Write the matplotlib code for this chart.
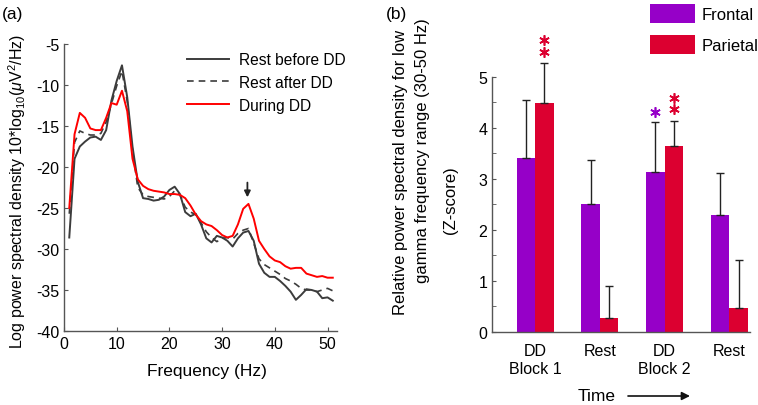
import matplotlib.pyplot as plt
import numpy as np

plt.rcParams['font.family'] = ['Liberation Sans', 'DejaVu Sans']
plt.rcParams['mathtext.fontset'] = 'custom'
plt.rcParams['mathtext.rm'] = 'Liberation Sans'
plt.rcParams['mathtext.it'] = 'Liberation Sans:italic'

# ---- panel (a): power spectra ----
freq = list(range(1, 52))
rest_before = [-28.6, -19.0, -17.5, -16.9, -16.4, -16.3, -16.7, -15.5, -11.9, -9.5,
               -7.6, -11.5, -17.5, -21.8, -23.8, -23.9, -24.1, -24.0, -23.6, -22.8,
               -22.4, -23.3, -25.5, -26.0, -25.7, -27.0, -28.7, -29.2, -28.4, -28.6,
               -29.0, -29.7, -28.7, -28.0, -27.8, -29.0, -31.8, -32.9, -33.4, -33.4,
               -33.9, -34.5, -35.2, -36.2, -35.6, -34.9, -35.0, -35.2, -36.0, -35.9,
               -36.3]
rest_after = [-25.7, -17.0, -15.6, -15.9, -16.1, -16.1, -15.9, -14.5, -12.3, -10.1,
              -8.3, -12.0, -18.0, -22.5, -23.4, -23.6, -23.7, -23.8, -23.9, -23.6,
              -22.9, -23.4, -24.9, -25.5, -25.8, -26.8, -27.9, -28.6, -29.1, -28.7,
              -28.6, -28.8, -28.1, -27.7, -27.5, -29.3, -31.2, -31.9, -32.3, -32.7,
              -33.1, -33.6, -33.9, -34.3, -34.8, -35.0, -35.0, -35.2, -35.0, -34.8,
              -35.1]
during_dd = [-25.0, -16.0, -13.4, -14.0, -15.3, -15.5, -15.5, -14.0, -12.2, -12.4,
             -10.7, -13.2, -19.0, -21.5, -22.3, -22.7, -22.9, -23.0, -23.1, -23.3,
             -23.3, -23.4, -23.8, -24.7, -25.8, -26.6, -27.0, -27.2, -27.7, -28.3,
             -28.6, -28.4, -27.0, -25.1, -24.5, -26.3, -29.0, -30.0, -30.9, -31.4,
             -31.6, -32.1, -32.4, -32.3, -32.3, -33.0, -33.2, -33.4, -33.3, -33.5,
             -33.5]
peak_freq = 34.8

# ---- panel (b): z-scores ----
groups = ['DD\nBlock 1', 'Rest', 'DD\nBlock 2', 'Rest']
frontal = [3.40, 2.50, 3.13, 2.30]
frontal_err = [1.15, 0.86, 0.98, 0.82]
parietal = [4.48, 0.27, 3.65, 0.47]
parietal_err = [0.79, 0.64, 0.49, 0.94]
frontal_stars = [0, 0, 1, 0]
parietal_stars = [2, 0, 2, 0]

purple = '#9600C8'
red = '#DC0030'
dark = '#3c3c3c'

W, H = 758, 406
fig = plt.figure(figsize=(W / 100, H / 100), dpi=100)

def fx(px):
    return px / W

def fy(py):
    return 1 - py / H

# panel a
ax1 = fig.add_axes([fx(64), fy(332), fx(337) - fx(64), fy(45) - fy(332)])
ax1.plot(freq, rest_before, color=dark, lw=1.4, label='Rest before DD')
ax1.plot(freq, rest_after, color=dark, lw=1.2, linestyle=(0, (4, 3)), label='Rest after DD')
ax1.plot(freq, during_dd, color='#ff0000', lw=1.4, label='During DD')
ax1.set_xlim(0, 51.8)
ax1.set_ylim(-40, -5)
ax1.set_xticks([0, 10, 20, 30, 40, 50])
ax1.set_yticks([-5, -10, -15, -20, -25, -30, -35, -40])
ax1.set_yticklabels(['-5', '-10', '-15', '-20', '-25', '-30', '-35', '-40'])
ax1.annotate('', xy=(peak_freq, -23.7), xytext=(peak_freq, -21.9),
             arrowprops=dict(arrowstyle='-|>', color='#222222', lw=1.3, mutation_scale=9,
                             shrinkA=0, shrinkB=0))
ax1.legend(loc='upper left', bbox_to_anchor=(fx(187), fy(53)), bbox_transform=fig.transFigure,
           frameon=False, fontsize=11.2, handlelength=2.7, handletextpad=0.65,
           labelspacing=0.5, borderpad=0, borderaxespad=0)
fig.text(fx(207), fy(372), 'Frequency (Hz)', ha='center', va='center', fontsize=12.5)
fig.text(fx(17), fy(191), r'Log power spectral density 10*log$_{10}$($\mu$V$^2$/Hz)',
         rotation=90, ha='center', va='center', fontsize=11.5)
fig.text(fx(13), fy(15), '(a)', ha='center', va='center', fontsize=12.5)

# panel b
ax2 = fig.add_axes([fx(492), fy(333), fx(750) - fx(492), fy(77.7) - fy(333)])
x = np.arange(len(groups))
bw = 0.287
ax2.bar(x - bw / 2, frontal, bw, color=purple, label='Frontal')
ax2.bar(x + bw / 2, parietal, bw, color=red, label='Parietal')
for pos, vals, errs in ((x - bw / 2, frontal, frontal_err), (x + bw / 2, parietal, parietal_err)):
    eb = ax2.errorbar(pos, vals, yerr=[np.zeros(4), errs], fmt='none',
                      ecolor='#222222', elinewidth=1, capsize=3, capthick=1)
    for art in eb.lines[1] + eb.lines[2]:
        art.set_clip_on(False)
for i in range(len(groups)):
    for k in range(frontal_stars[i]):
        ax2.plot(x[i] - bw / 2, frontal[i] + frontal_err[i] + 0.2 + 0.21 * k,
                 marker=(6, 2, 0), ms=7.5, mew=1.2, color=purple, clip_on=False)
    for k in range(parietal_stars[i]):
        ax2.plot(x[i] + bw / 2, parietal[i] + parietal_err[i] + 0.22 + 0.22 * k,
                 marker=(6, 2, 0), ms=7.5, mew=1.2, color=red, clip_on=False)
ax2.set_xlim(-0.667, 3.32)
ax2.set_ylim(0, 5)
ax2.set_yticks([0, 1, 2, 3, 4, 5])
ax2.set_yticks(np.arange(0.5, 5, 1), minor=True)
ax2.set_xticks(x)
ax2.set_xticklabels(groups, fontsize=11.5)
ax2.legend(loc='upper left', bbox_to_anchor=(fx(650), fy(5)), bbox_transform=fig.transFigure,
           frameon=False, fontsize=12, handlelength=2.7, handleheight=1.35,
           handletextpad=0.4, labelspacing=0.75, borderpad=0, borderaxespad=0)
fig.text(fx(400), fy(172), 'Relative power spectral density for low', rotation=90,
         ha='center', va='center', fontsize=12)
fig.text(fx(422), fy(151), 'gamma frequency range (30-50 Hz)', rotation=90,
         ha='center', va='center', fontsize=12)
fig.text(fx(450), fy(200), '(Z-score)', rotation=90, ha='center', va='center', fontsize=12)
fig.text(fx(597), fy(397), 'Time', ha='center', va='center', fontsize=12.5)
fig.text(fx(396), fy(15), '(b)', ha='center', va='center', fontsize=12.5)
ax2.annotate('', xy=(fx(690), fy(397)), xytext=(fx(628), fy(397)), xycoords='figure fraction',
             textcoords='figure fraction',
             arrowprops=dict(arrowstyle='-|>', color='#111111', lw=1.2, mutation_scale=12,
                             shrinkA=0, shrinkB=0))

for ax in (ax1, ax2):
    for s in ('top', 'right'):
        ax.spines[s].set_visible(False)
    for s in ('left', 'bottom'):
        ax.spines[s].set_color('#555555')
        ax.spines[s].set_linewidth(1.0)
    ax.tick_params(which='both', direction='in', length=3, color='#555555', labelsize=11.5)
ax2.tick_params(axis='x', length=0, pad=8)

fig.savefig('out.png', dpi=100)
